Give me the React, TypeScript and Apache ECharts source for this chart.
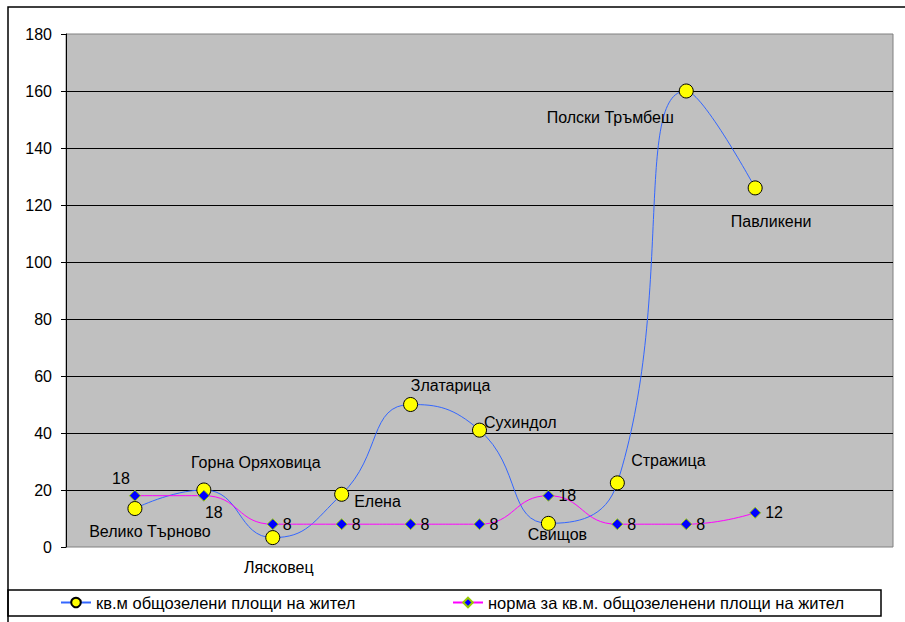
import React, { useEffect, useRef } from "react";
import * as echarts from "echarts";

const cities = [
  "Велико Търново",
  "Горна Оряховица",
  "Лясковец",
  "Елена",
  "Златарица",
  "Сухиндол",
  "Свищов",
  "Стражица",
  "Полски Тръмбеш",
  "Павликени",
];
const greenPerCapita = [13.5, 20, 3.3, 18.5, 50, 41, 8.3, 22.5, 160, 126];
const norm = [18, 18, 8, 8, 8, 8, 18, 8, 8, 12];
const yTicks = [0, 20, 40, 60, 80, 100, 120, 140, 160, 180];
const seriesNames = [
  "кв.м общозелени площи на жител",
  "норма за кв.м. общозеленени площи на жител",
];

const FONT = "'Liberation Sans', Arial, sans-serif";

// label placement (style only)
const cityLabelPos: Array<{ position: string; offset: number[] }> = [
  { position: "bottom", offset: [15, 2] },
  { position: "top", offset: [52, -7] },
  { position: "bottom", offset: [6, 9] },
  { position: "right", offset: [0, 7] },
  { position: "top", offset: [40, 1] },
  { position: "right", offset: [-8, -8] },
  { position: "bottom", offset: [9, -9] },
  { position: "top", offset: [51, -2] },
  { position: "left", offset: [0, 26] },
  { position: "bottom", offset: [16, 13] },
];
const normLabelPos: Array<{ position: string; offset: number[] }> = [
  { position: "top", offset: [-14, 1] },
  { position: "bottom", offset: [10, -1] },
  { position: "right", offset: [0, 0] },
  { position: "right", offset: [0, 0] },
  { position: "right", offset: [0, 0] },
  { position: "right", offset: [0, 0] },
  { position: "right", offset: [0, 0] },
  { position: "right", offset: [0, 0] },
  { position: "right", offset: [0, 0] },
  { position: "right", offset: [0, 0] },
];

export default function App() {
  const ref = useRef<HTMLDivElement>(null);
  useEffect(() => {
    document.body.style.margin = "0";
    const chart = echarts.init(ref.current!, null, { renderer: "svg" });
    const cats = ["", ...cities, "", ""];
    const s1 = [
      null,
      ...greenPerCapita.map((v, i) => ({
        value: v,
        label: {
          show: true,
          position: cityLabelPos[i].position,
          offset: cityLabelPos[i].offset,
        },
      })),
      null,
      null,
    ];
    const s2 = [
      null,
      ...norm.map((v, i) => ({
        value: v,
        label: {
          show: true,
          position: normLabelPos[i].position,
          offset: normLabelPos[i].offset,
        },
      })),
      null,
      null,
    ];
    const legendCommon = {
      top: 594,
      padding: 0,
      itemWidth: 30,
      itemHeight: 12,
      itemGap: 6,
      textStyle: { color: "#000", fontSize: 16.5, fontFamily: FONT },
    };
    chart.setOption({
      animation: false,
      backgroundColor: "#ffffff",
      textStyle: { fontFamily: FONT },
      grid: {
        left: 66,
        top: 34,
        right: 12,
        bottom: 75,
        show: true,
        backgroundColor: "#C0C0C0",
        borderColor: "#808080",
        borderWidth: 1,
      },
      xAxis: {
        type: "category",
        data: cats,
        boundaryGap: false,
        axisLine: { show: false },
        axisTick: { show: false },
        axisLabel: { show: false },
        splitLine: { show: false },
      },
      yAxis: {
        type: "value",
        min: yTicks[0],
        max: yTicks[yTicks.length - 1],
        interval: 20,
        axisLine: { show: true, lineStyle: { color: "#000", width: 1 } },
        axisTick: { show: true, length: 5, lineStyle: { color: "#000" } },
        axisLabel: {
          color: "#000",
          fontSize: 16,
          fontFamily: FONT,
          margin: 14,
        },
        splitLine: {
          show: true,
          showMinLine: false,
          showMaxLine: false,
          lineStyle: { color: "#000", width: 1 },
        },
      },
      legend: [
        { ...legendCommon, data: [seriesNames[0]], left: 60 },
        { ...legendCommon, data: [seriesNames[1]], left: 452 },
      ],
      graphic: [
        {
          type: "rect",
          shape: { x: 8, y: 7, width: 1000, height: 700 },
          style: { fill: "none", stroke: "#000", lineWidth: 1.5 },
          silent: true,
          z: 100,
        },
        {
          type: "rect",
          shape: { x: 8, y: 590, width: 873, height: 26 },
          style: { fill: "none", stroke: "#000", lineWidth: 1.5 },
          silent: true,
          z: 100,
        },
      ],
      series: [
        {
          name: seriesNames[0],
          type: "line",
          data: s1,
          smooth: 0.5,
          symbol: "circle",
          symbolSize: 14,
          lineStyle: { color: "#3366FF", width: 1 },
          itemStyle: { color: "#FFFF00", borderColor: "#000", borderWidth: 1 },
          label: {
            show: true,
            color: "#000",
            fontSize: 16,
            fontFamily: FONT,
            formatter: (p: any) => p.name,
          },
          z: 2,
        },
        {
          name: seriesNames[1],
          type: "line",
          data: s2,
          smooth: 0.5,
          symbol: "diamond",
          symbolSize: 11,
          lineStyle: { color: "#FF00FF", width: 1 },
          itemStyle: { color: "#0000FF", borderColor: "#99CC00", borderWidth: 1 },
          label: {
            show: true,
            color: "#000",
            fontSize: 16,
            fontFamily: FONT,
            distance: 4,
          },
          z: 3,
        },
      ],
    });
    return () => chart.dispose();
  }, []);
  return (
    <div
      ref={ref}
      style={{ position: "fixed", left: 0, top: 0, width: 905, height: 622 }}
    />
  );
}
